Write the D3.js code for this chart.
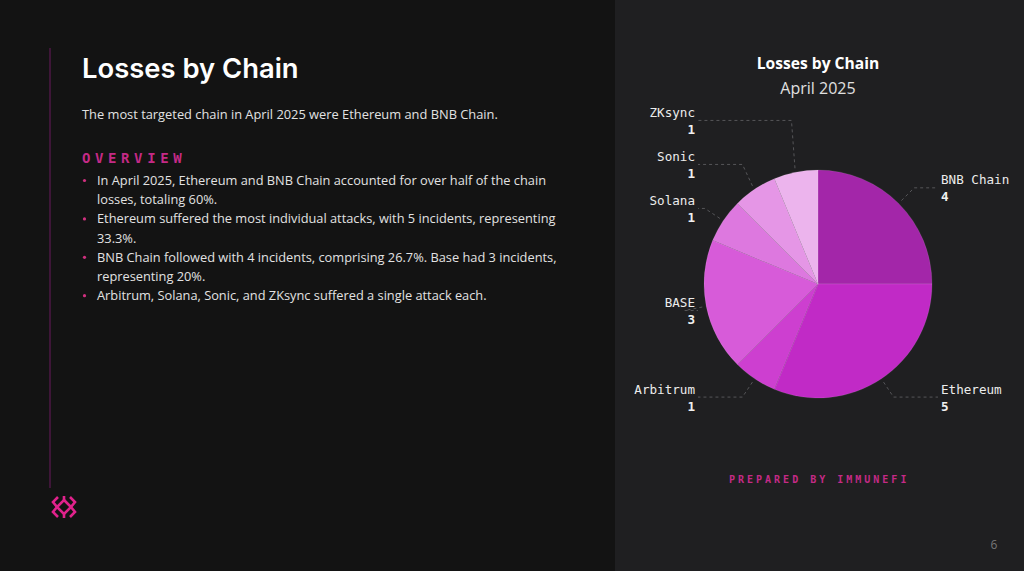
<!DOCTYPE html>
<html>
<head>
<meta charset="utf-8">
<script src="https://cdn.jsdelivr.net/npm/d3@7"></script>
<style>
  body { margin: 0; background: #131313; overflow: hidden; }
  svg { display: block; }
</style>
</head>
<body>
<div id="wrapper"></div>
<script>
// data
const chains = ["BNB Chain", "Ethereum", "Arbitrum", "BASE", "Solana", "Sonic", "ZKsync"]
const incidents = [4, 5, 1, 3, 1, 1, 1]
const sliceColors = ["#a326a9", "#c12ac6", "#cd3fd0", "#d75bd9", "#dd78df", "#e596e6", "#ecb4ed"]

const pageTitle = "Losses by Chain"
const pageIntro = "The most targeted chain in April 2025 were Ethereum and BNB Chain."
const overviewBullets = [
  ["In April 2025, Ethereum and BNB Chain accounted for over half of the chain", "losses, totaling 60%."],
  ["Ethereum suffered the most individual attacks, with 5 incidents, representing", "33.3%."],
  ["BNB Chain followed with 4 incidents, comprising 26.7%. Base had 3 incidents,", "representing 20%."],
  ["Arbitrum, Solana, Sonic, and ZKsync suffered a single attack each."],
]
const chartTitle = "Losses by Chain"
const chartSubtitle = "April 2025"

function drawSlide() {
  const dimensions = { width: 1024, height: 571, split: 615 }
  const pie = { cx: 818, cy: 284, r: 114, labelR: 136 }

  const svg = d3.select("#wrapper")
    .append("svg")
    .attr("width", dimensions.width)
    .attr("height", dimensions.height)

  // backgrounds
  svg.append("rect")
    .attr("width", dimensions.split).attr("height", dimensions.height)
    .attr("fill", "#131313")
  svg.append("rect")
    .attr("x", dimensions.split)
    .attr("width", dimensions.width - dimensions.split).attr("height", dimensions.height)
    .attr("fill", "#1f1f21")

  // left panel
  svg.append("line")
    .attr("x1", 50).attr("x2", 50).attr("y1", 48).attr("y2", 488)
    .attr("stroke", "#3e1638").attr("stroke-width", 2)

  svg.append("text")
    .attr("x", 82).attr("y", 78)
    .attr("fill", "#ffffff")
    .style("font-family", "Inter, 'Open Sans', sans-serif")
    .style("font-weight", 600)
    .style("font-size", "27.4px")
    .text(pageTitle)

  svg.append("text")
    .attr("x", 82).attr("y", 119)
    .attr("fill", "#e2e2e2")
    .style("font-family", "'Open Sans', sans-serif")
    .style("font-size", "12.85px")
    .text(pageIntro)

  svg.append("text")
    .attr("x", 82).attr("y", 163)
    .attr("fill", "#c42a86")
    .style("font-family", "'DejaVu Sans Mono', monospace")
    .style("font-weight", "bold")
    .style("font-size", "14px")
    .style("letter-spacing", "4.6px")
    .text("OVERVIEW")

  let lineY = 185
  overviewBullets.forEach(lines => {
    svg.append("circle")
      .attr("cx", 84.5).attr("cy", lineY - 4.5).attr("r", 1.6)
      .attr("fill", "#d0307f")
    lines.forEach(l => {
      svg.append("text")
        .attr("x", 97).attr("y", lineY)
        .attr("fill", "#e2e2e2")
        .style("font-family", "'Open Sans', sans-serif")
        .style("font-size", "12.8px")
        .text(l)
      lineY += 19.2
    })
  })

  // logo
  const logo = svg.append("g")
    .attr("transform", "translate(64,507)")
    .attr("fill", "none")
    .attr("stroke", "#e0228c")
    .attr("stroke-width", 2.6)
    .attr("stroke-linejoin", "miter")
  logo.append("path").attr("d", "M0,-7 L7,0 L0,7 L-7,0 Z")
  logo.append("path").attr("d", "M-6,-10 L-11,-5 L-7,0 L-11,5 L-6,10")
  logo.append("path").attr("d", "M6,-10 L11,-5 L7,0 L11,5 L6,10")
  logo.append("path").attr("d", "M0,-11 L0,-7 M0,7 L0,11")

  // right panel: chart
  svg.append("text")
    .attr("x", pie.cx).attr("y", 69)
    .attr("text-anchor", "middle")
    .attr("fill", "#ffffff")
    .style("font-family", "'Open Sans', sans-serif")
    .style("font-weight", "bold")
    .style("font-size", "15.6px")
    .text(chartTitle)

  svg.append("text")
    .attr("x", pie.cx).attr("y", 94)
    .attr("text-anchor", "middle")
    .attr("fill", "#e0e0e0")
    .style("font-family", "'Open Sans', sans-serif")
    .style("font-size", "16px")
    .text(chartSubtitle)

  const dataset = chains.map((c, i) => ({ chain: c, value: incidents[i], color: sliceColors[i] }))

  const pieGenerator = d3.pie().sort(null).value(d => d.value)
  const arcs = pieGenerator(dataset)
  const arcGenerator = d3.arc().innerRadius(0).outerRadius(pie.r)

  const bounds = svg.append("g")
    .attr("transform", `translate(${pie.cx},${pie.cy})`)

  bounds.selectAll("path.slice")
    .data(arcs)
    .join("path")
    .attr("class", "slice")
    .attr("d", arcGenerator)
    .attr("fill", d => d.data.color)
    .attr("stroke", "rgba(255,255,255,0.18)")
    .attr("stroke-width", 0.6)

  // label layout
  const labels = arcs.map(a => {
    const mid = (a.startAngle + a.endAngle) / 2
    return {
      arc: a,
      mid,
      side: Math.sin(mid) >= 0 ? 1 : -1,
      y: -Math.cos(mid) * pie.labelR,
    }
  })
  const minGap = 44
  ;[1, -1].forEach(side => {
    const group = labels.filter(l => l.side === side).sort((a, b) => a.y - b.y)
    for (let i = group.length - 2; i >= 0; i--) {
      if (group[i].y > group[i + 1].y - minGap) group[i].y = group[i + 1].y - minGap
    }
  })

  labels.forEach(l => {
    const sx = Math.sin(l.mid) * (pie.r + 4)
    const sy = -Math.cos(l.mid) * (pie.r + 4)
    const ex = Math.sin(l.mid) * pie.labelR
    const endX = l.side * 120
    bounds.append("polyline")
      .attr("points", `${sx},${sy} ${ex},${l.y} ${endX},${l.y}`)
      .attr("fill", "none")
      .attr("stroke", "#555558")
      .attr("stroke-width", 1)
      .attr("stroke-dasharray", "3,3")

    const tx = l.side * 123
    const anchor = l.side > 0 ? "start" : "end"
    bounds.append("text")
      .attr("x", tx).attr("y", l.y - 3.5)
      .attr("text-anchor", anchor)
      .attr("fill", "#ececec")
      .style("font-family", "'DejaVu Sans Mono', monospace")
      .style("font-size", "12.6px")
      .text(l.arc.data.chain)
    bounds.append("text")
      .attr("x", tx).attr("y", l.y + 13.5)
      .attr("text-anchor", anchor)
      .attr("fill", "#f0f0f0")
      .style("font-family", "'DejaVu Sans Mono', monospace")
      .style("font-weight", "bold")
      .style("font-size", "12.6px")
      .text(l.arc.data.value)
  })

  svg.append("text")
    .attr("x", 729).attr("y", 483)
    .attr("fill", "#c42a86")
    .style("font-family", "'DejaVu Sans Mono', monospace")
    .style("font-weight", "bold")
    .style("font-size", "10px")
    .style("letter-spacing", "3px")
    .text("PREPARED BY IMMUNEFI")

  svg.append("text")
    .attr("x", 994).attr("y", 549)
    .attr("text-anchor", "middle")
    .attr("fill", "#777777")
    .style("font-family", "'Open Sans', sans-serif")
    .style("font-size", "12px")
    .text("6")
}
drawSlide()
</script>
</body>
</html>
